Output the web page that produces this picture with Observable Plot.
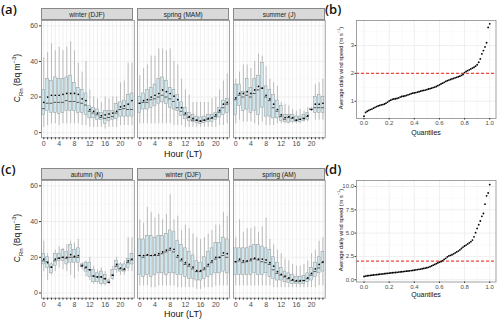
<!DOCTYPE html>
<html>
<head>
<meta charset="utf-8">
<script src="https://cdn.jsdelivr.net/npm/d3@7"></script>
<script src="https://cdn.jsdelivr.net/npm/@observablehq/plot@0.6"></script>
<style>
  html, body { margin: 0; padding: 0; background: #fff; }
  #root { position: relative; width: 500px; height: 322px; overflow: hidden; font-family: "Liberation Sans", Arial, sans-serif; }
  .abs { position: absolute; }
  .strip { position: absolute; background: #d9d9d9; border: 0.7px solid #888; box-sizing: border-box; font-size: 6.5px; color: #1a1a1a; text-align: center; line-height: 11px; }
  .plab { position: absolute; font-family: "Open Sans", "Liberation Sans", sans-serif; font-size: 13px; font-weight: 600; color: #111; }
  .rot { position: absolute; transform: translate(-50%, -50%) rotate(-90deg); white-space: nowrap; color: #111; }
  .xt { position: absolute; transform: translateX(-50%); white-space: nowrap; color: #111; }
  sub, sup { font-size: 70%; line-height: 0; }
</style>
</head>
<body>
<div id="root"></div>
<script>
// ---------------- data ----------------
const hours = d3.range(24);

// (a) winter (DJF)
const aWinterLo   = [3,4,5,5,4,5,5,5,5,5,4,4,3,3,3,3,2,3,3,3,4,4,4,4];
const aWinterQ1   = [10,12,11,11,10.5,11,12,12,12,11,11,10,8,8,7,7,5,6.5,7,7.5,9,9,9,9];
const aWinterMed  = [13.5,16.5,16.5,17,17,17,18,17.5,17.5,17,16.5,15.5,12,11,10,8.5,8,8.5,9,11,13,13.5,13,13];
const aWinterQ3   = [24,30,29,31,30,30,31,32,28,25,24,22,15,14,13,11,12,12,12,16,17,18,21,22];
const aWinterHi   = [42,45,50,46,48,46,48,51,46,39,34,40,24,20,19,17,20,19,20,20,28,29,39,39];
const aWinterMean = [17,20,21,21,21,21.5,22,22,22,21.5,19,18,13,12,11,9.5,10,10.5,11,12,14.5,15,16,18];

// (a) spring (MAM)
const aSpringLo   = [5,5,5,5,5,5,5,5,5,4,4,4,3,3,3,3,3,3,3,3,3,4,4,5];
const aSpringQ1   = [11,13,13,14,15,16,17,16,14,13,12,9.5,7.5,6.5,6,5.5,5,5.5,6,6,7,8.5,10,11];
const aSpringMed  = [16.5,17,17,18.5,19,20,21,20,19,17.5,14,12,10,8.5,7,7,6.5,7,7.5,8,9,11.5,14,16];
const aSpringQ3   = [20,22,24,25,27,30,31,29,25,24,21,17,14,11,10,9,8.5,9,10,10,11,14,18,19];
const aSpringHi   = [32,36,38,43,43,47,47,46,47,40,38,30,24,21,17,17,17,17,17,19,20,24,29,33];
const aSpringMean = [16.5,18,18.5,20,21,22,24,23,22,20.5,18.5,14,11,9,8,7,6.5,7,8,8.5,10,12.5,16,17];

// (a) summer (J)
const aSummerLo   = [5,7,6,6,6,5,4,6,4,4,4,5,5,5,5,5,5,5,6,6,12,7,7,7];
const aSummerQ1   = [10,15,12,13,11,12,10,14,9,9,8,8,6.5,6,5.5,6,6,6,6.5,7,12.5,11,11,11];
const aSummerMed  = [18.5,21,20,21,20,22,24,25,20,18,14,12,9,7.5,8.5,8,7,7.5,8,9,13,14,14,14];
const aSummerQ3   = [27,27,23,30,25,30,32,39,26,24,21,18,15,10,10,10,9,9,10,11,13.5,20,21,20];
const aSummerHi   = [30,34,38,38,36,40,44,43,37,30,28,26,17,16,15,13,12,13,12,14,14,27,28,30];
const aSummerMean = [19.5,22,22,23,22,24,26,25,21,19,16,13,10,8.5,9,8.5,7,7.5,8,9.5,13,16,16,16.5];

// (c) autumn (N)
const cAutumnLo   = [12,7,10,12,14,13,12,10,8,12,13,9,7,5,5,4,4,5,7,11,10,10,12,12];
const cAutumnQ1   = [16,14,11,15,18,18,16,17,17,17,14.5,12,9,6,6,5,5,5.5,8,13,12,12,14,16];
const cAutumnMed  = [18,17.5,14.5,18,19.5,20,19.5,20,20,20,15,14,13,9.5,9,9,8,6,10,15,13.5,13,17,18.5];
const cAutumnQ3   = [22,20,16,22,22,24,23,27,24,25,16,17,17,13,11,12,10,7,13,18,16,16,19,22];
const cAutumnHi   = [29,22,17,24,26,25,27,29,28,30,17,18,20,15,13,14,12,8,15,20,17,18,31,31];
const cAutumnMean = [19,17,14.5,19,19.5,20,20,21.5,20.5,21,15.5,14.5,13,9.5,9,9,8,6,10,16,14,13.5,18,19];

// (c) winter (DJF)
const cWinterLo   = [4,4,4,3,3,4,4,4,4,4,3,3,3,3,3,2,2,3,3,3,4,4,4,4];
const cWinterQ1   = [10,9,10,9,10,11,11,10,11,11,10,10,9,8,8,7,7,8,9,10,11,11,12,11];
const cWinterMed  = [21,20,21,21,21,21,22,23,24,23,20,18,16,15,13.5,12,12,13,15,17,19,20,21,20];
const cWinterQ3   = [30,30,32,32,31,32,32,33,35,34,29,27,25,23,21,18,17,20,23,25,28,28,31,30];
const cWinterHi   = [41,39,48,45,42,44,41,44,55,41,43,35,38,36,33,31,30,31,33,35,38,38,45,43];
const cWinterMean = [21,21,21.5,21,21.5,22,23,24,25,24.5,21,19,17,16,14.5,12.5,12.5,14,16,18,20,20,22.5,22];

// (c) spring (AM)
const cSpringLo   = [4,4,4,4,4,4,4,4,4,4,3,3,3,3,3,3,3,3,3,3,3,3,4,4];
const cSpringQ1   = [10,10,10,10,10,11,10,10,11,9,8,7,7,6,5.5,5,5,5,5,6,7,9,11,12];
const cSpringMed  = [17.5,18,17,17.5,18,19,18.5,17.5,17,16,13,11,10,9,8,7,6.5,6.5,7,8,10,12,14,17];
const cSpringQ3   = [25,25,25,25,26,27,27,26,25,24,20,17,14,12,11,10,9,9,9.5,11,14,17,20,23];
const cSpringHi   = [31,41,34,36,36,37,34,37,42,30,27,24,22,19,18,16,15,15,16,18,22,24,29,31];
const cSpringMean = [17.5,19,18,18,19,19.5,19,19,18.5,17,15,12,10.5,9.5,8.5,7.5,7,7,7,8.5,11,13.5,16,17.5];

// (b) sorted average daily wind speed
const bWind = [0.46,0.6,0.64,0.67,0.7,0.72,0.75,0.78,0.81,0.83,0.85,0.87,0.88,0.9,0.93,0.97,1.01,1.04,1.07,1.08,
  1.09,1.1,1.12,1.15,1.17,1.18,1.19,1.21,1.23,1.25,1.27,1.29,1.3,1.31,1.33,1.34,1.36,1.38,1.39,1.4,
  1.42,1.44,1.45,1.47,1.49,1.51,1.53,1.56,1.59,1.62,1.65,1.68,1.71,1.74,1.76,1.78,1.8,1.82,1.84,1.86,
  1.88,1.9,1.93,1.96,2.03,2.07,2.1,2.13,2.16,2.19,2.22,2.26,2.31,2.4,2.52,2.7,2.82,2.95,3.1,3.65,3.78];

// (d) sorted average daily wind speed
const dWind = [0.35,0.4,0.43,0.45,0.47,0.49,0.51,0.53,0.55,0.57,0.59,0.61,0.63,0.65,0.67,0.69,0.71,0.73,0.75,0.77,
  0.78,0.8,0.82,0.84,0.86,0.88,0.9,0.92,0.94,0.96,0.98,1.0,1.03,1.06,1.09,1.12,1.15,1.18,1.21,1.25,
  1.29,1.33,1.4,1.48,1.56,1.64,1.72,1.8,1.88,1.96,2.05,2.18,2.3,2.45,2.55,2.62,2.68,2.78,2.88,2.98,
  3.08,3.2,3.35,3.5,3.62,3.72,3.84,3.96,4.08,4.25,4.6,5.05,5.5,5.9,6.3,6.8,7.1,8.1,9.0,9.3,10.2];

const windThreshold = 2;
const concTicks = [0,20,40,60];
const quantTicks = [0,0.2,0.4,0.6,0.8,1.0];

// ---------------- helpers ----------------
const root = document.getElementById("root");
const FONT = "'Liberation Sans', Arial, sans-serif";

function place(el, left, top) {
  const d = document.createElement("div");
  d.className = "abs";
  d.style.left = left + "px";
  d.style.top = top + "px";
  d.appendChild(el);
  root.appendChild(d);
}
function html(cls, text, style) {
  const d = document.createElement("div");
  d.className = cls;
  d.innerHTML = text;
  Object.assign(d.style, style);
  root.appendChild(d);
}
function rowsOf(lo, q1, med, q3, hi, mean) {
  return hours.map(h => ({hour: h, lo: lo[h], q1: q1[h], med: med[h], q3: q3[h], hi: hi[h], mean: mean[h]}));
}

function boxFacet(rows, {left, top, W, H, showY, strip}) {
  const ml = showY ? 20 : 0, mb = 16;
  const bw = 0.375;
  const marks = [
    Plot.ruleX(hours, {stroke: "#ebebeb", strokeWidth: 0.8}),
    Plot.ruleY([10, 30, 50], {stroke: "#f3f3f3", strokeWidth: 0.4}),
    Plot.ruleY(concTicks, {stroke: "#ebebeb", strokeWidth: 0.8}),
    Plot.ruleX(rows, {x: "hour", y1: "lo", y2: "hi", stroke: "#a3a3a3", strokeWidth: 0.7}),
    Plot.rect(rows, {x1: d => d.hour - bw, x2: d => d.hour + bw, y1: "q1", y2: "q3", fill: "#cde6ee", stroke: "#8e8e8e", strokeWidth: 0.45}),
    Plot.ruleY(rows, {y: "med", x1: d => d.hour - bw, x2: d => d.hour + bw, stroke: "#555", strokeWidth: 1}),
    Plot.dot(rows, {x: "hour", y: "mean", r: 0.85, fill: "#000", stroke: null}),
    Plot.frame({stroke: "#8a8a8a", strokeWidth: 0.8}),
    Plot.axisX({ticks: hours, tickFormat: d => (d % 4 === 0 ? String(d) : ""), tickSize: 2, tickPadding: 1.5, label: null, stroke: "#333", fill: "#4d4d4d"})
  ];
  if (showY) marks.push(Plot.axisY({ticks: concTicks, tickSize: 2, tickPadding: 1.5, label: null, stroke: "#333", fill: "#4d4d4d"}));
  const p = Plot.plot({
    width: W + ml, height: H + mb,
    marginLeft: ml, marginRight: 0, marginTop: 0, marginBottom: mb,
    x: {domain: [-0.6, 23.6]},
    y: {domain: [-2.9, 63], axis: showY ? undefined : null},
    style: {fontSize: "7px", fontFamily: FONT, color: "#4d4d4d", background: "transparent", overflow: "visible"},
    marks
  });
  place(p, left - ml, top);
  html("strip", strip, {left: left + "px", top: (top - 11.7) + "px", width: W + "px", height: "12px"});
}

function qqPanel(vals, {left, top, W, H, ydom, yticks, yminor, yfmt}) {
  const n = vals.length;
  const pts = vals.map((v, i) => ({q: i / (n - 1), v}));
  const ml = 20, mb = 10;
  const p = Plot.plot({
    width: W + ml, height: H + mb,
    marginLeft: ml, marginRight: 0, marginTop: 0, marginBottom: mb,
    x: {domain: [-0.06, 1.05]},
    y: {domain: ydom},
    style: {fontSize: "6px", fontFamily: FONT, color: "#4d4d4d", background: "transparent", overflow: "visible"},
    marks: [
      Plot.ruleX([0.1, 0.3, 0.5, 0.7, 0.9], {stroke: "#f3f3f3", strokeWidth: 0.4}),
      Plot.ruleY(yminor, {stroke: "#f3f3f3", strokeWidth: 0.4}),
      Plot.ruleX(quantTicks, {stroke: "#ebebeb", strokeWidth: 0.8}),
      Plot.ruleY(yticks, {stroke: "#ebebeb", strokeWidth: 0.8}),
      Plot.ruleY([windThreshold], {stroke: "#f0453b", strokeWidth: 1.1, strokeDasharray: "3,2"}),
      Plot.dot(pts, {x: "q", y: "v", r: 0.9, fill: "#000", stroke: null}),
      Plot.frame({stroke: "#8a8a8a", strokeWidth: 0.8}),
      Plot.axisX({ticks: quantTicks, tickFormat: d3.format(".1f"), tickSize: 1.5, tickPadding: 1, label: null, stroke: "#333", fill: "#4d4d4d"}),
      Plot.axisY({ticks: yticks, tickFormat: yfmt, tickSize: 1.5, tickPadding: 1, label: null, stroke: "#333", fill: "#4d4d4d"})
    ]
  });
  place(p, left - ml, top);
}

// ---------------- layout ----------------
const facetX = [[40.5, 92.8], [137.3, 92], [233.3, 91.7]];
const topRows = [
  [rowsOf(aWinterLo, aWinterQ1, aWinterMed, aWinterQ3, aWinterHi, aWinterMean), "winter (DJF)"],
  [rowsOf(aSpringLo, aSpringQ1, aSpringMed, aSpringQ3, aSpringHi, aSpringMean), "spring (MAM)"],
  [rowsOf(aSummerLo, aSummerQ1, aSummerMed, aSummerQ3, aSummerHi, aSummerMean), "summer (J)"]
];
const botRows = [
  [rowsOf(cAutumnLo, cAutumnQ1, cAutumnMed, cAutumnQ3, cAutumnHi, cAutumnMean), "autumn (N)"],
  [rowsOf(cWinterLo, cWinterQ1, cWinterMed, cWinterQ3, cWinterHi, cWinterMean), "winter (DJF)"],
  [rowsOf(cSpringLo, cSpringQ1, cSpringMed, cSpringQ3, cSpringHi, cSpringMean), "spring (AM)"]
];
topRows.forEach(([rows, s], i) => boxFacet(rows, {left: facetX[i][0], top: 20, W: facetX[i][1], H: 117.3, showY: i === 0, strip: s}));
botRows.forEach(([rows, s], i) => boxFacet(rows, {left: facetX[i][0], top: 180, W: facetX[i][1], H: 117.7, showY: i === 0, strip: s}));

qqPanel(bWind, {left: 355.5, top: 20, W: 139.5, H: 98, ydom: [0.38, 3.9], yticks: [1, 2, 3], yminor: [1.5, 2.5, 3.5], yfmt: d3.format("d")});
qqPanel(dWind, {left: 355.5, top: 180, W: 139.5, H: 101.5, ydom: [-0.24, 10.64], yticks: [0, 2.5, 5, 7.5, 10], yminor: [1.25, 3.75, 6.25, 8.75], yfmt: d3.format(".1f")});

// titles and labels
const yTitle = "C<sub>Rn</sub> (Bq m<sup>&minus;3</sup>)";
html("rot", yTitle, {left: "17px", top: "78px", fontSize: "8.5px"});
html("rot", yTitle, {left: "17px", top: "238px", fontSize: "8.5px"});
html("xt", "Hour (LT)", {left: "183px", top: "149px", fontSize: "9px"});
html("xt", "Hour (LT)", {left: "183px", top: "309px", fontSize: "9px"});

const wTitle = "Average daily wind speed (m s<sup>&minus;1</sup>)";
html("rot", wTitle, {left: "341px", top: "68px", fontSize: "5.6px"});
html("rot", wTitle, {left: "341px", top: "230px", fontSize: "5.6px"});
html("xt", "Quantiles", {left: "426px", top: "128.5px", fontSize: "7px"});
html("xt", "Quantiles", {left: "426px", top: "290.5px", fontSize: "7px"});

html("plab", "(a)", {left: "1px", top: "0px"});
html("plab", "(b)", {left: "325px", top: "0px"});
html("plab", "(c)", {left: "1px", top: "160px"});
html("plab", "(d)", {left: "325px", top: "160px"});
</script>
</body>
</html>
